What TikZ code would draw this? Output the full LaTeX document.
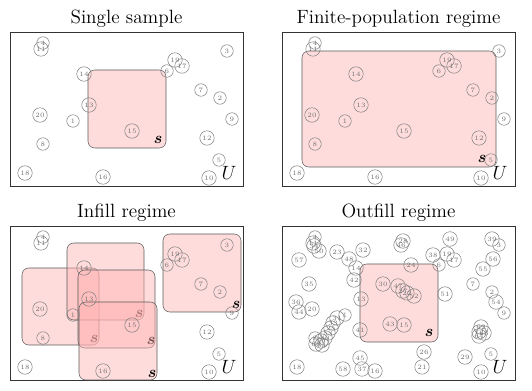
\documentclass[tikz,border=0pt]{standalone}
\usepackage{bm}
\tikzset{
  unit/.style={circle,draw=black!50,text=black!55,inner sep=1.2pt,minimum size=9.4pt,
    font=\fontsize{5}{5}\selectfont},
  region/.style={draw=black!80,line width=0.6pt},
  sample/.style={draw=black!65,fill=red!30,fill opacity=0.45,rounded corners=5pt},
  title/.style={font=\Large,anchor=base}
}
\newcommand\basepoints{33/11/4,31/17/11,217/19/3,165/28/19,172/34/17,157/39/6,
  74/42/14,191/58/7,210/66/2,79/73/13,30/83/20,222/87/9,63/89/1,122/99/15,
  197/106/12,33/112/8,209/128/5,15/141/18,93/145/16,199/146/10}
\newcommand\outfillpoints{32/20/34,37/25/50,17/34/57,55/26/23,67/33/48,81/24/32,
  72/54/42,27/58/35,14/76/36,17/86/44,55/92/31,51/97/33,49/102/25,46/107/53,
  43/112/40,39/115/59,34/118/60,40/119/61,78/104/41,78/132/45,61/143/58,
  80/143/37,121/15/28,119/19/46,129/39/24,101/58/30,116/60/47,121/65/27,
  125/67/22,132/70/52,108/98/43,142/126/26,140/141/21,168/13/49,151/29/38,
  163/68/51,210/13/39,211/33/56,201/43/55,214/76/54,199/101/62,202/107/63,
  197/110/64,183/131/29}
\begin{document}
\begin{tikzpicture}[x=0.75pt,y=-0.75pt]
\useasboundingbox (0,0) rectangle (532,391);

% single sample
\begin{scope}[shift={(10,32)}]
  \node[title] (t1) at (116.5,-8.5) {Single sample};
  \draw[region] (0,0) rectangle (233,154);
  \draw[sample] (78,38) rectangle (156,116);
  \node (s1) at (148,108) {\large$\bm{s}$};
  \foreach \x/\y/\n in \basepoints
    \node[unit] (a\n) at (\x,\y) {\n};
  \node (u1) at (219,141) {\Large$U$};
\end{scope}

% finite population
\begin{scope}[shift={(282,32)}]
  \node[title] (t2) at (116.5,-8.5) {Finite-population regime};
  \draw[region] (0,0) rectangle (233,154);
  \draw[sample] (20,19) rectangle (214,135);
  \node (s2) at (200,127) {\large$\bm{s}$};
  \foreach \x/\y/\n in \basepoints
    \node[unit] (b\n) at (\x,\y) {\n};
  \node (u2) at (218,141) {\Large$U$};
\end{scope}

% infill
\begin{scope}[shift={(10,226)}]
  \node[title] (t3) at (116.5,-8.5) {Infill regime};
  \draw[region] (0,0) rectangle (233,154);
  \draw[sample] (12,42) rectangle (89,119);
  \node (s3a) at (84,113) {\large$\bm{s}$};
  \draw[sample] (57,17) rectangle (134,94);
  \node (s3b) at (129,88) {\large$\bm{s}$};
  \draw[sample] (68,44) rectangle (145,122);
  \node (s3c) at (141,115) {\large$\bm{s}$};
  \draw[sample] (69,76) rectangle (147,154);
  \node (s3d) at (142,148) {\large$\bm{s}$};
  \draw[sample] (153,8) rectangle (231,86);
  \node (s3e) at (226,79) {\large$\bm{s}$};
  \foreach \x/\y/\n in \basepoints
    \node[unit] (c\n) at (\x,\y) {\n};
  \node (u3) at (219,141) {\Large$U$};
\end{scope}

% outfill
\begin{scope}[shift={(282,226)}]
  \node[title] (t4) at (116.5,-8.5) {Outfill regime};
  \draw[region] (0,0) rectangle (233,154);
  \draw[sample] (78,38) rectangle (156,116);
  \node (s4) at (147,107) {\large$\bm{s}$};
  \foreach \x/\y/\n in \basepoints
    \node[unit] (d\n) at (\x,\y) {\n};
  \foreach \x/\y/\n in \outfillpoints
    \node[unit] (d\n) at (\x,\y) {\n};
  \node (u4) at (218,141) {\Large$U$};
\end{scope}
\end{tikzpicture}
\end{document}
